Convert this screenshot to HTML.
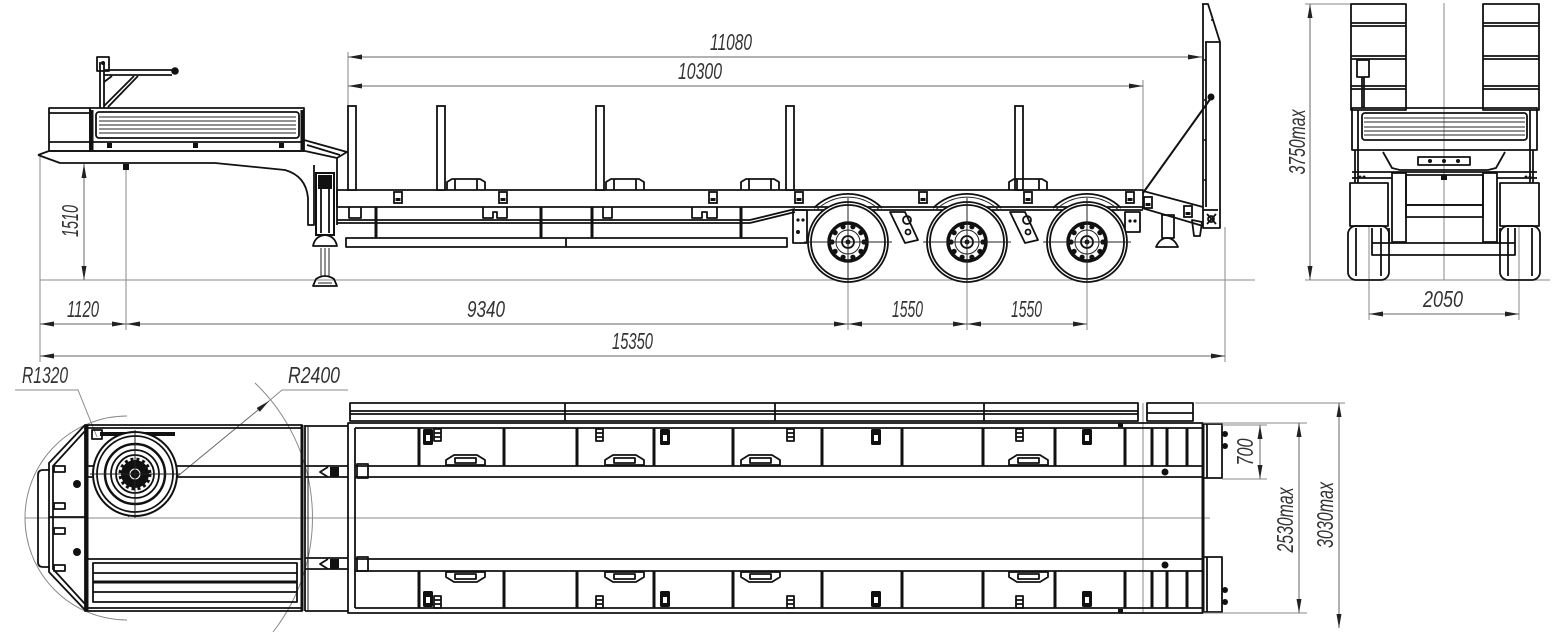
<!DOCTYPE html>
<html><head><meta charset="utf-8"><style>
html,body{margin:0;padding:0;background:#fff;}
svg{display:block}
.m{fill:none;stroke:#111;stroke-width:1.8;stroke-linejoin:round}
.b{fill:none;stroke:#111;stroke-width:3}
.w{fill:#fff;stroke:#111;stroke-width:1.8}
.t{fill:none;stroke:#222;stroke-width:1}
.d{fill:none;stroke:#8a8a8a;stroke-width:1}
.dm{fill:none;stroke:#666;stroke-width:1;marker-start:url(#a);marker-end:url(#a)}
.de{fill:none;stroke:#666;stroke-width:1;marker-end:url(#a)}
.k{fill:#111;stroke:none}
text{font-family:"Liberation Sans",sans-serif;font-style:italic;font-size:23px;fill:#333}
</style></head><body>
<svg width="1559" height="634" viewBox="0 0 1559 634" xmlns="http://www.w3.org/2000/svg">
<defs>
<marker id="a" viewBox="0 0 14 5" refX="14" refY="2.5" markerWidth="14" markerHeight="5" orient="auto-start-reverse" markerUnits="userSpaceOnUse"><path d="M0,0 L14,2.5 L0,5z" fill="#222"/></marker>
<g id="wh">
<path class="m" d="M-34,-34 A48,48 0 0 1 34,-34"/>
<path class="t" d="M-32,-31.5 A45,45 0 0 1 32,-31.5"/>
<circle class="w" r="40"/>
<circle class="m" r="37"/>
<circle r="19" fill="none" stroke="#111" stroke-width="3.5"/>
<circle class="t" r="12"/>
<g class="k">
<circle cx="16" cy="0" r="2.6"/><circle cx="12.9" cy="9.4" r="2.6"/><circle cx="4.9" cy="15.2" r="2.6"/><circle cx="-4.9" cy="15.2" r="2.6"/><circle cx="-12.9" cy="9.4" r="2.6"/><circle cx="-16" cy="0" r="2.6"/><circle cx="-12.9" cy="-9.4" r="2.6"/><circle cx="-4.9" cy="-15.2" r="2.6"/><circle cx="4.9" cy="-15.2" r="2.6"/><circle cx="12.9" cy="-9.4" r="2.6"/>
</g>
<circle class="m" r="6"/>
<circle class="k" r="2.5"/>
<path class="t" d="M-44,0 H44 M0,-44 V40"/>
</g>
<g id="clip"><rect class="w" x="-4" y="0" width="8" height="11" stroke-width="2"/><rect class="k" x="-2.5" y="6" width="5" height="3"/></g>
<g id="hump"><path class="m" d="M0,11 L0,3 L5,0 L33,0 L38,3 L38,11 M8,0 V11 M30,0 V11"/></g>
<g id="stake"><rect class="w" x="0" y="0" width="8" height="84"/></g>
<g id="lugU"><path class="m" d="M0,10 L0,5 L8,0 L31,0 L39,5 L39,10 Z M9,3 H30 V8 H9 Z"/></g>
<g id="lugD"><path class="m" d="M0,0 L0,5 L8,10 L31,10 L39,5 L39,0 Z M9,2 H30 V7 H9 Z"/></g>
<g id="ringU"><rect x="0" y="0" width="10" height="16" rx="1.5" fill="#111"/><rect x="3" y="6" width="4" height="6" fill="#fff"/></g>
<g id="strU"><path class="m" d="M0,0 H7 V12 H0 Z M0,4 H7 M0,8 H7"/></g>
</defs>

<!-- ================= SIDE VIEW ================= -->
<g class="d">
<line x1="40" y1="280" x2="1255" y2="280"/>
<line x1="40" y1="157" x2="40" y2="362"/>
<line x1="126" y1="165" x2="126" y2="330"/>
<line x1="348" y1="52" x2="348" y2="106"/>
<line x1="1143" y1="80" x2="1143" y2="190"/>
<line x1="848" y1="242" x2="848" y2="330"/>
<line x1="967" y1="242" x2="967" y2="330"/>
<line x1="1087" y1="242" x2="1087" y2="330"/>
<line x1="1225" y1="227" x2="1225" y2="362"/>
</g>
<line class="dm" x1="348" y1="57" x2="1202" y2="57"/>
<line class="dm" x1="348" y1="86" x2="1143" y2="86"/>
<line class="dm" x1="84" y1="164" x2="84" y2="280"/>
<line class="dm" x1="40" y1="324" x2="126" y2="324"/>
<line class="dm" x1="126" y1="324" x2="848" y2="324"/>
<line class="dm" x1="848" y1="324" x2="967" y2="324"/>
<line class="dm" x1="967" y1="324" x2="1087" y2="324"/>
<line class="dm" x1="40" y1="356" x2="1225" y2="356"/>

<text x="710" y="50" textLength="42" lengthAdjust="spacingAndGlyphs">11080</text>
<text x="678" y="79" textLength="44" lengthAdjust="spacingAndGlyphs">10300</text>
<text x="67" y="317" textLength="32" lengthAdjust="spacingAndGlyphs">1120</text>
<text x="467" y="317" textLength="38" lengthAdjust="spacingAndGlyphs">9340</text>
<text x="892" y="317" textLength="31" lengthAdjust="spacingAndGlyphs">1550</text>
<text x="1011" y="317" textLength="31" lengthAdjust="spacingAndGlyphs">1550</text>
<text x="612" y="349" textLength="41" lengthAdjust="spacingAndGlyphs">15350</text>
<text transform="translate(78,221) rotate(-90)" text-anchor="middle" textLength="32" lengthAdjust="spacingAndGlyphs">1510</text>

<!-- gooseneck side -->
<g class="m">
<rect x="49" y="108" width="41" height="43"/>
<line x1="49" y1="113" x2="90" y2="113"/>
<line x1="49" y1="142" x2="90" y2="142"/>
<rect x="90" y="108" width="214" height="43"/>
<rect x="96" y="112" width="203" height="26" rx="3"/>
<line x1="90" y1="142" x2="304" y2="142"/>
<path d="M38,155 L49,151 L305,151"/>
<path d="M38,155 L60,163 L215,163 L285,170 Q306,176 308,198 L308,225 L314,225 L314,165"/>
<path d="M304,140 L347,152 L337,158 L305,151"/>
<path d="M307,145 L340,155"/>
<path d="M337,158 L337,225"/>
</g>
<g class="t">
<line x1="99" y1="117" x2="296" y2="117"/>
<line x1="99" y1="121" x2="296" y2="121"/>
<line x1="99" y1="125" x2="296" y2="125"/>
<line x1="99" y1="129" x2="296" y2="129"/>
<line x1="99" y1="133" x2="296" y2="133"/>
</g>
<line class="b" x1="92" y1="110" x2="92" y2="150"/>
<line class="b" x1="302" y1="110" x2="302" y2="150"/>
<g class="k">
<rect x="107" y="143" width="5" height="5"/><rect x="193" y="143" width="5" height="5"/><rect x="279" y="143" width="5" height="5"/>
<rect x="123" y="164" width="6" height="6"/>
</g>
<!-- crane -->
<g class="m">
<path d="M100,108 V62 M104,108 V62"/>
<rect x="97" y="57" width="12" height="14"/>
<path d="M104,70 H172 M104,75 H172"/>
<path d="M104,106 L134,76 M108,107 L138,76"/>
<path d="M104,82 L112,76"/>
</g>
<circle class="k" cx="175" cy="71" r="3.8"/>
<circle class="k" cx="103" cy="63" r="2"/>
<!-- landing gear -->
<g>
<rect x="316" y="173" width="18" height="62" fill="#fff" stroke="#111" stroke-width="2"/>
<rect class="k" x="318" y="175" width="14" height="14"/>
<path class="m" d="M321,189 V233 M329,189 V233"/>
<path class="m" d="M313,246 Q315,236 325,235 Q335,236 337,246 Z"/>
<path class="t" d="M321,248 V276 M325,248 V276 M329,248 V276"/>
<path class="m" d="M313,286 L316,279 Q325,273 334,279 L337,286 Z"/>
<path class="t" d="M318,283 H332"/>
</g>
<!-- deck -->
<g class="m">
<rect x="337" y="190" width="806" height="17"/>
<line x1="337" y1="220" x2="750" y2="220"/>
<line x1="337" y1="223" x2="750" y2="223"/>
<line x1="750" y1="220" x2="795" y2="209"/>
<line x1="750" y1="223" x2="795" y2="212"/>
<line x1="795" y1="210" x2="1143" y2="210"/>
<rect x="346" y="238" width="441" height="9"/>
<line x1="566" y1="238" x2="566" y2="247"/>
<path d="M349,207 V218 H361 V207 M483,207 V218 H493 V212 H497 V218 H507 V207"/>
<path d="M603,207 V218 H612 V207 M692,207 V218 H702 V212 H707 V218 H717 V207"/>
</g>
<g class="b">
<line x1="376" y1="207" x2="376" y2="238"/>
<line x1="541" y1="207" x2="541" y2="238"/>
<line x1="592" y1="207" x2="592" y2="238"/>
<line x1="741" y1="207" x2="741" y2="238"/>
</g>
<use href="#stake" x="348" y="106"/>
<use href="#stake" x="437" y="106"/>
<use href="#stake" x="596" y="106"/>
<use href="#stake" x="786" y="106"/>
<use href="#stake" x="1015" y="106"/>
<use href="#hump" x="447" y="179"/>
<use href="#hump" x="606" y="179"/>
<use href="#hump" x="741" y="179"/>
<use href="#hump" x="1009" y="179"/>
<use href="#clip" x="398" y="192"/>
<use href="#clip" x="503" y="192"/>
<use href="#clip" x="713" y="192"/>
<use href="#clip" x="799" y="192"/>
<use href="#clip" x="923" y="192"/>
<use href="#clip" x="1028" y="192"/>
<use href="#clip" x="1130" y="192"/>
<!-- suspension brackets -->
<g class="m">
<rect x="793" y="210" width="14" height="33"/>
<path d="M890,212 L905,212 L918,240 L905,243 Z"/>
<path d="M1010,212 L1025,212 L1038,240 L1025,243 Z"/>
<rect x="1125" y="212" width="15" height="20"/>
</g>
<g class="k">
<circle cx="798" cy="220" r="1.6"/><circle cx="803" cy="220" r="1.6"/><circle cx="798" cy="232" r="2"/>
<circle cx="1130" cy="221" r="1.6"/><circle cx="1135" cy="221" r="1.6"/>
</g>
<g class="m">
<circle cx="907" cy="220" r="4"/><circle cx="908" cy="232" r="2.5"/>
<circle cx="1027" cy="220" r="4"/><circle cx="1028" cy="232" r="2.5"/>
</g>
<use href="#wh" x="848" y="242"/>
<use href="#wh" x="967" y="242"/>
<use href="#wh" x="1087" y="242"/>
<!-- rear ramp & hinge -->
<g class="m">
<path d="M1143,191 L1203,207 M1142,208 L1203,226"/>
<path d="M1202,4 L1208,4 L1220,42 L1220,228 L1203,228 L1203,4"/>
<path d="M1205,42 H1220 M1206,42 V207"/>
<path d="M1203,210 H1218"/>
<path d="M1207,214 L1216,224 M1216,214 L1207,224"/>
<rect x="1162" y="215" width="12" height="23"/>
<path d="M1156,247 Q1160,238 1167,238 Q1174,238 1178,247 Z"/>
<path d="M1192,220 L1202,222 L1200,236 L1194,236 Z"/>
</g>
<circle class="m" cx="1211" cy="219" r="3"/>
<line x1="1211" y1="98" x2="1143" y2="193" stroke="#111" stroke-width="2"/>
<circle class="k" cx="1211" cy="97" r="3.5"/>
<use href="#clip" x="1148" y="197"/>
<use href="#clip" x="1188" y="206"/>
<g class="k">
<circle cx="1212" cy="20" r="1"/><circle cx="1205" cy="60" r="1"/><circle cx="1205" cy="100" r="1"/><circle cx="1205" cy="140" r="1"/><circle cx="1205" cy="180" r="1"/>
</g>

<!-- ================= REAR VIEW ================= -->
<g class="d">
<line x1="1305" y1="4" x2="1351" y2="4"/>
<line x1="1305" y1="280" x2="1550" y2="280"/>
<line x1="1444" y1="3" x2="1444" y2="280"/>
<line x1="1369" y1="226" x2="1369" y2="320"/>
<line x1="1519" y1="226" x2="1519" y2="320"/>
</g>
<line class="dm" x1="1310" y1="4" x2="1310" y2="280"/>
<line class="dm" x1="1369" y1="314" x2="1519" y2="314"/>
<text x="1423" y="307" textLength="40" lengthAdjust="spacingAndGlyphs">2050</text>
<text transform="translate(1305,142) rotate(-90)" text-anchor="middle" textLength="65" lengthAdjust="spacingAndGlyphs">3750max</text>
<g class="m">
<rect x="1351" y="4" width="55" height="106"/>
<rect x="1483" y="4" width="56" height="106"/>
<path d="M1351,23 H1406 M1351,26 H1406 M1351,56 H1406 M1351,59 H1406 M1351,86 H1406 M1351,89 H1406"/>
<path d="M1483,23 H1539 M1483,26 H1539 M1483,56 H1539 M1483,59 H1539 M1483,86 H1539 M1483,89 H1539"/>
<rect x="1352" y="108" width="185" height="42"/>
<rect x="1362" y="113" width="165" height="27" rx="3"/>
<path d="M1355,150 V183 M1358,110 V183 M1533,150 V183 M1530,110 V183"/>
<path d="M1383,152 L1392,168 L1400,170 L1488,170 L1496,168 L1505,152"/>
<path d="M1352,172 H1537 M1352,178 H1392 M1497,178 H1537"/>
<rect x="1350" y="183" width="38" height="43"/>
<rect x="1500" y="183" width="39" height="43"/>
<rect x="1392" y="173" width="14" height="69"/>
<rect x="1483" y="173" width="14" height="69"/>
<rect x="1406" y="175" width="77" height="30"/>
<rect x="1406" y="205" width="77" height="12"/>
<rect x="1372" y="243" width="143" height="12"/>
<rect x="1348" y="226" width="41" height="54" rx="8"/>
<rect x="1500" y="226" width="40" height="54" rx="8"/>
<path d="M1356,228 V276 M1381,228 V276 M1508,228 V276 M1532,228 V276"/>
<path d="M1372,228 V243 M1389,228 V243 M1500,228 V243 M1515,228 V243"/>
<path d="M1418,157 H1470 V165 H1418 Z"/>
</g>
<g class="t">
<path d="M1364,118 H1525 M1364,122 H1525 M1364,127 H1525 M1364,131 H1525 M1364,135 H1525"/>
</g>
<g class="m">
<rect x="1357" y="60" width="12" height="17"/>
<path d="M1362,77 V108 M1364,77 V108"/>
</g>
<g class="k">
<circle cx="1360" cy="177" r="1.5"/><circle cx="1364" cy="177" r="1.5"/><circle cx="1526" cy="177" r="1.5"/><circle cx="1530" cy="177" r="1.5"/>
<circle cx="1430" cy="161" r="2"/><circle cx="1444" cy="161" r="2"/><circle cx="1458" cy="161" r="2"/>
<rect x="1441" y="175" width="6" height="5"/>
</g>

<!-- ================= TOP VIEW ================= -->
<line class="d" x1="25" y1="518" x2="1210" y2="518"/>
<line class="d" x1="1143" y1="403" x2="1143" y2="613"/>
<path class="d" d="M127,416 A102,102 0 0 0 127,620"/>
<path class="d" d="M255,383 A186,186 0 0 1 273,632"/>
<line class="de" x1="128" y1="517" x2="269" y2="401"/>
<path class="d" d="M269,401 L282,390 H348"/>
<path class="d" d="M15,390 H78 L97,437"/>
<text x="22" y="383" textLength="46" lengthAdjust="spacingAndGlyphs">R1320</text>
<text x="288" y="383" textLength="52" lengthAdjust="spacingAndGlyphs">R2400</text>
<g class="m">
<rect x="85" y="425" width="217" height="186"/>
<path d="M88,428 H302 M88,608 H302"/>
<path d="M85,425 L49,463 L49,572 L85,610"/>
<path d="M85,431 L53,466 L53,569 L85,604"/>
<path d="M49,517 H85"/>
<path d="M50,470 H43 Q38,470 38,475 V562 Q38,567 43,567 H50"/>
<path d="M88,466 H302 M88,477 H302 M88,559 H302"/>
<rect x="93" y="563" width="204" height="39"/>
<path d="M93,573 H297 M93,592 H297"/>
</g>
<line class="b" x1="93" y1="582" x2="297" y2="582"/>
<line x1="100" y1="434" x2="175" y2="434" stroke="#111" stroke-width="4"/>
<line class="b" x1="87" y1="425" x2="87" y2="611"/>
<line class="b" x1="302" y1="425" x2="302" y2="611"/>
<g class="m">
<rect x="54" y="466" width="11" height="6"/><rect x="54" y="503" width="11" height="6"/><rect x="54" y="528" width="11" height="6"/><rect x="54" y="565" width="11" height="6"/>
<rect x="92" y="430" width="10" height="9"/>
</g>
<circle class="k" cx="77" cy="484" r="4"/>
<circle class="k" cx="77" cy="552" r="4"/>
<g>
<circle cx="135" cy="474" r="42" fill="#fff" stroke="#111" stroke-width="2"/>
<circle class="m" cx="135" cy="474" r="38"/>
<circle cx="135" cy="474" r="30" fill="none" stroke="#111" stroke-width="2.5"/>
<circle class="m" cx="135" cy="474" r="24"/>
<circle class="m" cx="135" cy="474" r="19"/>
<circle class="k" cx="135" cy="474" r="14"/>
<circle cx="135" cy="474" r="15" fill="none" stroke="#111" stroke-width="3" stroke-dasharray="3 3"/>
<circle cx="135" cy="474" r="5" fill="none" stroke="#fff" stroke-width="1"/>
<path class="t" d="M90,474 H180 M135,430 V518"/>
</g>
<g class="m">
<line x1="305" y1="425" x2="305" y2="611"/>
<path d="M305,426 H348 M305,611 H348"/>
<path d="M305,466 H348 M305,477 H348 M305,558 H348 M305,569 H348"/>
<path d="M328,467 L320,472 L328,477 M328,559 L320,564 L328,569"/>
<rect x="357" y="464" width="11" height="14"/>
<rect x="357" y="557" width="11" height="14"/>
</g>
<line class="t" x1="308" y1="425" x2="308" y2="611"/>
<g class="k">
<rect x="330" y="467" width="9" height="10"/><rect x="330" y="559" width="9" height="10"/>
</g>
<g class="m">
<rect x="348" y="423" width="855" height="190"/>
<path d="M355,428 H1203 M355,608 H1203 M355,428 V608"/>
<path d="M355,466 H1203 M355,477 H1203 M355,559 H1203 M355,571 H1203"/>
<rect x="350" y="403" width="788" height="18"/>
<path d="M350,411 H1138 M350,414 H1138"/>
<path d="M565,403 V421 M775,403 V421 M984,403 V421"/>
<rect x="1147" y="403" width="46" height="18"/>
<path d="M1147,413 H1193"/>
<rect x="1203" y="424" width="19" height="54"/>
<rect x="1203" y="557" width="19" height="55"/>
<path d="M1207,424 V478 M1207,557 V612"/>
</g>
<line x1="1203" y1="423" x2="1203" y2="613" stroke="#111" stroke-width="3"/>
<g class="b">
<path d="M419,428 V466 M504,428 V466 M577,428 V466 M654,428 V466 M733,428 V466 M822,428 V466 M902,428 V466 M983,428 V466 M1055,428 V466 M1125,428 V466 M1152,428 V466 M1167,428 V466 M1187,428 V466"/>
<path d="M419,571 V608 M504,571 V608 M577,571 V608 M654,571 V608 M733,571 V608 M822,571 V608 M902,571 V608 M983,571 V608 M1055,571 V608 M1125,571 V608 M1152,571 V608 M1167,571 V608 M1187,571 V608"/>
</g>
<g class="k">
<circle cx="1165" cy="472" r="3.5"/><circle cx="1165" cy="565" r="3.5"/>
<circle cx="1225" cy="434" r="3"/><circle cx="1225" cy="446" r="3"/>
<circle cx="1225" cy="590" r="3"/><circle cx="1225" cy="602" r="3"/>
<rect x="1118" y="423" width="5" height="4"/><rect x="1118" y="609" width="5" height="4"/>
</g>
<use href="#lugU" x="446" y="455"/>
<use href="#lugU" x="605" y="455"/>
<use href="#lugU" x="741" y="455"/>
<use href="#lugU" x="1009" y="455"/>
<use href="#lugD" x="446" y="572"/>
<use href="#lugD" x="605" y="572"/>
<use href="#lugD" x="741" y="572"/>
<use href="#lugD" x="1009" y="572"/>
<use href="#ringU" x="423" y="429"/>
<use href="#ringU" x="660" y="429"/>
<use href="#ringU" x="871" y="429"/>
<use href="#ringU" x="1082" y="429"/>
<use href="#ringU" x="423" y="591"/>
<use href="#ringU" x="660" y="591"/>
<use href="#ringU" x="871" y="591"/>
<use href="#ringU" x="1082" y="591"/>
<use href="#strU" x="434" y="429"/>
<use href="#strU" x="596" y="429"/>
<use href="#strU" x="787" y="429"/>
<use href="#strU" x="1016" y="429"/>
<use href="#strU" x="434" y="596"/>
<use href="#strU" x="596" y="596"/>
<use href="#strU" x="787" y="596"/>
<use href="#strU" x="1016" y="596"/>
<g class="d">
<line x1="1222" y1="425" x2="1267" y2="425"/>
<line x1="1222" y1="479" x2="1267" y2="479"/>
<line x1="1203" y1="423" x2="1307" y2="423"/>
<line x1="1203" y1="613" x2="1307" y2="613"/>
<line x1="1195" y1="403" x2="1345" y2="403"/>
</g>
<line class="dm" x1="1260" y1="425" x2="1260" y2="479"/>
<line class="dm" x1="1299" y1="423" x2="1299" y2="613"/>
<line class="dm" x1="1339" y1="403" x2="1339" y2="628"/>
<text transform="translate(1253,452) rotate(-90)" text-anchor="middle" textLength="27" lengthAdjust="spacingAndGlyphs">700</text>
<text transform="translate(1293,520) rotate(-90)" text-anchor="middle" textLength="65" lengthAdjust="spacingAndGlyphs">2530max</text>
<text transform="translate(1333,515) rotate(-90)" text-anchor="middle" textLength="66" lengthAdjust="spacingAndGlyphs">3030max</text>
</svg>
</body></html>
